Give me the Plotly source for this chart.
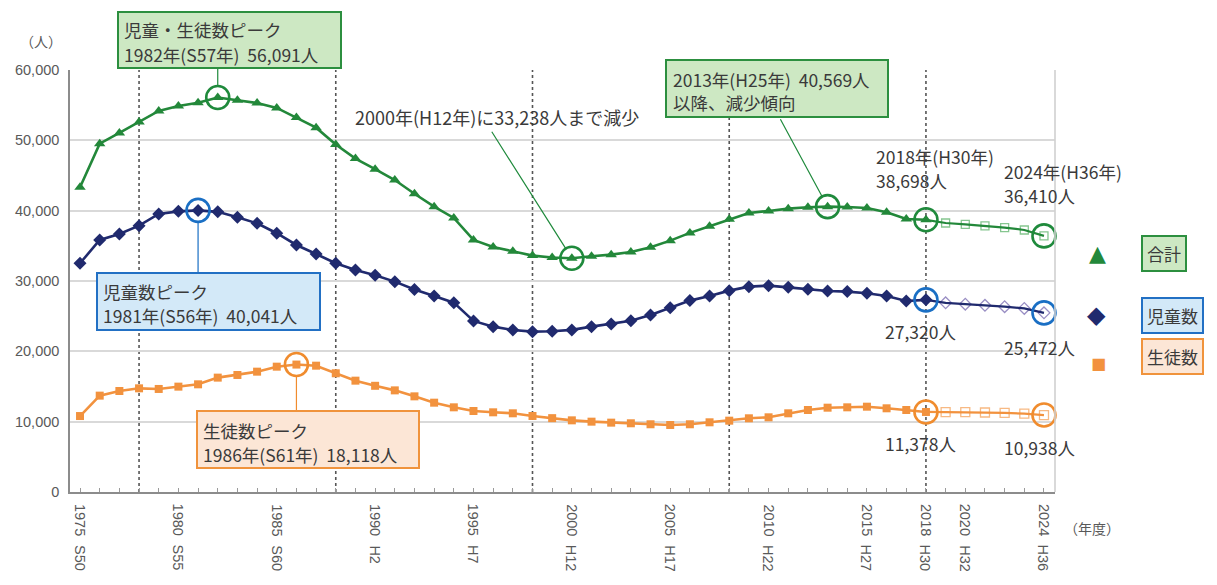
import plotly.graph_objects as go

# ---- data ---------------------------------------------------------------
years = list(range(1975, 2019))
children = [32520, 35830, 36690, 37870, 39530, 39900, 40041, 39830, 39060, 38200,
            36790, 35120, 33840, 32520, 31570, 30800, 29910, 28800, 27870, 26920,
            24320, 23510, 23040, 22800, 22850, 23050, 23510, 23890, 24360, 25170,
            26210, 27210, 27870, 28630, 29200, 29340, 29100, 28820, 28580, 28490,
            28250, 27870, 27150, 27320]
students = [10800, 13700, 14360, 14740, 14650, 14980, 15310, 16261, 16640, 17110,
            17820, 18118, 17960, 16880, 15830, 15100, 14450, 13600, 12700, 12040,
            11520, 11330, 11190, 10810, 10500, 10188, 10000, 9860, 9770, 9630,
            9530, 9630, 9910, 10140, 10480, 10620, 11190, 11660, 11989, 12040,
            12130, 11900, 11660, 11378]
total = [43320, 49530, 51050, 52610, 54180, 54880, 55351, 56091, 55700, 55310,
         54610, 53238, 51800, 49400, 47400, 45900, 44360, 42400, 40570, 38960,
         35840, 34840, 34230, 33610, 33350, 33238, 33510, 33750, 34130, 34800,
         35740, 36840, 37780, 38770, 39680, 39960, 40290, 40480, 40569, 40530,
         40380, 39770, 38810, 38698]

proj_years = list(range(2018, 2025))
proj_children = [27320, 26900, 26700, 26550, 26350, 26100, 25472]
proj_students = [11378, 11350, 11350, 11300, 11250, 11150, 10938]
proj_total = [38698, 38250, 38050, 37850, 37600, 37250, 36410]

tick_years = [1975, 1980, 1985, 1990, 1995, 2000, 2005, 2010, 2015, 2018, 2020, 2024]
era_labels = ["S50", "S55", "S60", "H2", "H7", "H12", "H17", "H22", "H27", "H30", "H32", "H36"]
guide_years = [1978, 1988, 1998, 2008, 2018]
y_ticks = [0, 10000, 20000, 30000, 40000, 50000, 60000]

# ---- styling ------------------------------------------------------------
JP = "Noto Sans CJK JP"
NUM = "Liberation Sans"
TXT = "#3a3a3a"
GREEN, NAVY, ORANGE = "#23883a", "#202a6e", "#f2923e"
C_GREEN, C_BLUE, C_ORANGE = "#1f8a3c", "#1a6fc4", "#f08c2e"

W, H = 1217, 585
L, R, T, B = 70, 162, 70, 93
PW, PH = W - L - R, H - T - B


def px(x):
    return (x - L) / PW


def py(y):
    return (H - B - y) / PH


fig = go.Figure()

# projected part (hollow markers), drawn first
for ys, col, sym, lc, sz in [
    (proj_total, GREEN, "square-open", "#86c690", 8),
    (proj_children, NAVY, "diamond-open", "#9a8fc4", 9),
    (proj_students, ORANGE, "square-open", "#f7b983", 9),
]:
    fig.add_trace(go.Scatter(
        x=proj_years[1:], y=ys[1:], mode="markers",
        marker=dict(symbol=sym, size=sz, color=lc, line=dict(width=1.3, color=lc)),
        hoverinfo="skip"))
    fig.add_trace(go.Scatter(
        x=proj_years, y=ys, mode="lines",
        line=dict(color=col, width=2.2), hoverinfo="skip"))

# actual values
for ys, col, sym, sz in [
    (total, GREEN, "triangle-up", 10),
    (children, NAVY, "diamond", 10),
    (students, ORANGE, "square", 8),
]:
    fig.add_trace(go.Scatter(
        x=years, y=ys, mode="lines+markers",
        line=dict(color=col, width=2.6),
        marker=dict(symbol=sym, size=sz, color=col)))

# highlight rings
rings = [
    (years[7], total[7], C_GREEN),
    (years[6], children[6], C_BLUE),
    (years[11], students[11], C_ORANGE),
    (years[25], total[25], C_GREEN),
    (years[38], total[38], C_GREEN),
    (proj_years[0], proj_total[0], C_GREEN),
    (proj_years[-1], proj_total[-1], C_GREEN),
    (proj_years[0], proj_children[0], C_BLUE),
    (proj_years[-1], proj_children[-1], C_BLUE),
    (proj_years[0], proj_students[0], C_ORANGE),
    (proj_years[-1], proj_students[-1], C_ORANGE),
]
for x, y, c in rings:
    fig.add_trace(go.Scatter(
        x=[x], y=[y], mode="markers", cliponaxis=False,
        marker=dict(symbol="circle-open", size=23, color=c, line=dict(width=2.6, color=c)),
        hoverinfo="skip"))

shapes = []
for gx in guide_years:
    shapes.append(dict(type="line", xref="x", yref="paper", x0=gx, x1=gx, y0=0, y1=1,
                       line=dict(color="#555555", width=1.6, dash="dot"), layer="below"))

ann = []


def text_line(x, y, t, size, color=TXT, anchor="left"):
    ann.append(dict(x=px(x), y=py(y), xref="paper", yref="paper", xanchor=anchor,
                    yanchor="middle", text=t, showarrow=False,
                    borderpad=0, borderwidth=0,
                    font=dict(family=JP, size=size, color=color)))


# leader lines from callouts to rings
for x, y, axp, ayp, c in [
    (years[7], total[7], 0, -30, C_GREEN),
    (years[6], children[6], 0, 63, C_BLUE),
    (years[11], students[11], 0, 47, C_ORANGE),
    (years[25], total[25], -81, -128, C_GREEN),
    (years[38], total[38], -48, -89, C_GREEN),
]:
    ann.append(dict(x=x, y=y, xref="x", yref="y", text="", showarrow=True,
                    ax=axp, ay=ayp, axref="pixel", ayref="pixel",
                    arrowhead=0, arrowwidth=1.2, arrowcolor=c, standoff=11))

# boxed callouts: frame (x0, x1, y0, y1), text start, two line centres
boxes = [
    ((118, 341, 12, 68), 124, (30, 54),
     ["児童・生徒数ピーク", "1982年(S57年)&nbsp;&nbsp;56,091人"], "#2c8f3f", "#cde8c3"),
    ((97, 320, 273, 330), 103, (291, 315),
     ["児童数ピーク", "1981年(S56年)&nbsp;&nbsp;40,041人"], "#2270c4", "#d3e9f8"),
    ((197, 419, 411, 468), 203, (430, 454),
     ["生徒数ピーク", "1986年(S61年)&nbsp;&nbsp;18,118人"], "#f0933c", "#fce6d6"),
    ((666, 888, 60, 117), 673, (79, 103),
     ["2013年(H25年)&nbsp;&nbsp;40,569人", "以降、減少傾向"], "#2c8f3f", "#cde8c3"),
]
for (x0, x1, y0, y1), tx, (l1, l2), lines, bc, bg in boxes:
    shapes.append(dict(type="rect", xref="paper", yref="paper",
                       x0=px(x0), x1=px(x1), y0=py(y1), y1=py(y0),
                       line=dict(color=bc, width=2), fillcolor=bg, layer="above"))
    text_line(tx, l1, lines[0], 17.5)
    text_line(tx, l2, lines[1], 17.5)

# plain notes
text_line(355, 117, "2000年(H12年)に33,238人まで減少", 18)
text_line(876, 156, "2018年(H30年)", 17.5)
text_line(876, 180, "38,698人", 17.5)
text_line(1004, 171, "2024年(H36年)", 17.5)
text_line(1004, 195, "36,410人", 17.5)
text_line(885, 331, "27,320人", 17.5)
text_line(1004, 347, "25,472人", 17.5)
text_line(885, 443, "11,378人", 17.5)
text_line(1004, 447, "10,938人", 17.5)

# x-axis labels (rotated)
for yr, era in zip(tick_years, era_labels):
    ann.append(dict(x=yr, y=py(503), xref="x", yref="paper", text=str(yr),
                    textangle=90, xanchor="center", yanchor="top", showarrow=False,
                    font=dict(family=NUM, size=14.5, color="#595959"), borderpad=0))
    ann.append(dict(x=yr, y=py(544), xref="x", yref="paper", text=era,
                    textangle=90, xanchor="center", yanchor="top", showarrow=False,
                    font=dict(family=NUM, size=14.5, color="#595959"), borderpad=0))

text_line(1064, 528, "（年度）", 14, "#595959")
text_line(62, 41, "（人）", 14, "#595959", anchor="right")

# legend
legend_rows = [
    (253, "▲", GREEN, 22, "合計", "#2c8f3f", "#cde8c3"),
    (315, "◆", NAVY, 24, "児童数", "#2270c4", "#d3e9f8"),
    (375, "■", ORANGE, 16, "生徒数", "#f0933c", "#fce6d6"),
]
for ly, glyph, gc, gs, label, bc, bg in legend_rows:
    ann.append(dict(x=px(1108), y=py(ly), xref="paper", yref="paper", text=glyph,
                    showarrow=False, font=dict(family="DejaVu Sans", size=gs, color=gc)))
    ann.append(dict(x=px(1141), y=py(ly), xref="paper", yref="paper", text=label,
                    xanchor="left", showarrow=False,
                    font=dict(family=JP, size=17, color=TXT),
                    bordercolor=bc, borderwidth=2, borderpad=4, bgcolor=bg))

fig.update_layout(
    width=W, height=H,
    margin=dict(l=L, r=R, t=T, b=B),
    paper_bgcolor="white", plot_bgcolor="white",
    showlegend=False,
    shapes=shapes, annotations=ann,
    xaxis=dict(range=[1974.49, 2024.56], showgrid=False, zeroline=False,
               showline=True, linecolor="#8c8c8c", linewidth=1.5, mirror=False,
               ticks="inside", tick0=1975, dtick=1, ticklen=4, tickcolor="#9a9a9a",
               showticklabels=False),
    yaxis=dict(range=[0, 60000], tickvals=y_ticks, tickformat=",d",
               showgrid=True, gridcolor="#d9d9d9", gridwidth=1.6, zeroline=False,
               showline=True, linecolor="#8c8c8c", linewidth=1.5, mirror=False,
               ticks="", ticklabelstandoff=6,
               tickfont=dict(family=NUM, size=14.5, color="#595959")),
)
# light right-hand frame
fig.add_shape(type="line", xref="paper", yref="paper", x0=1, x1=1, y0=0, y1=1,
              line=dict(color="#d0d0d0", width=1.6))

fig.write_html("out.html")
